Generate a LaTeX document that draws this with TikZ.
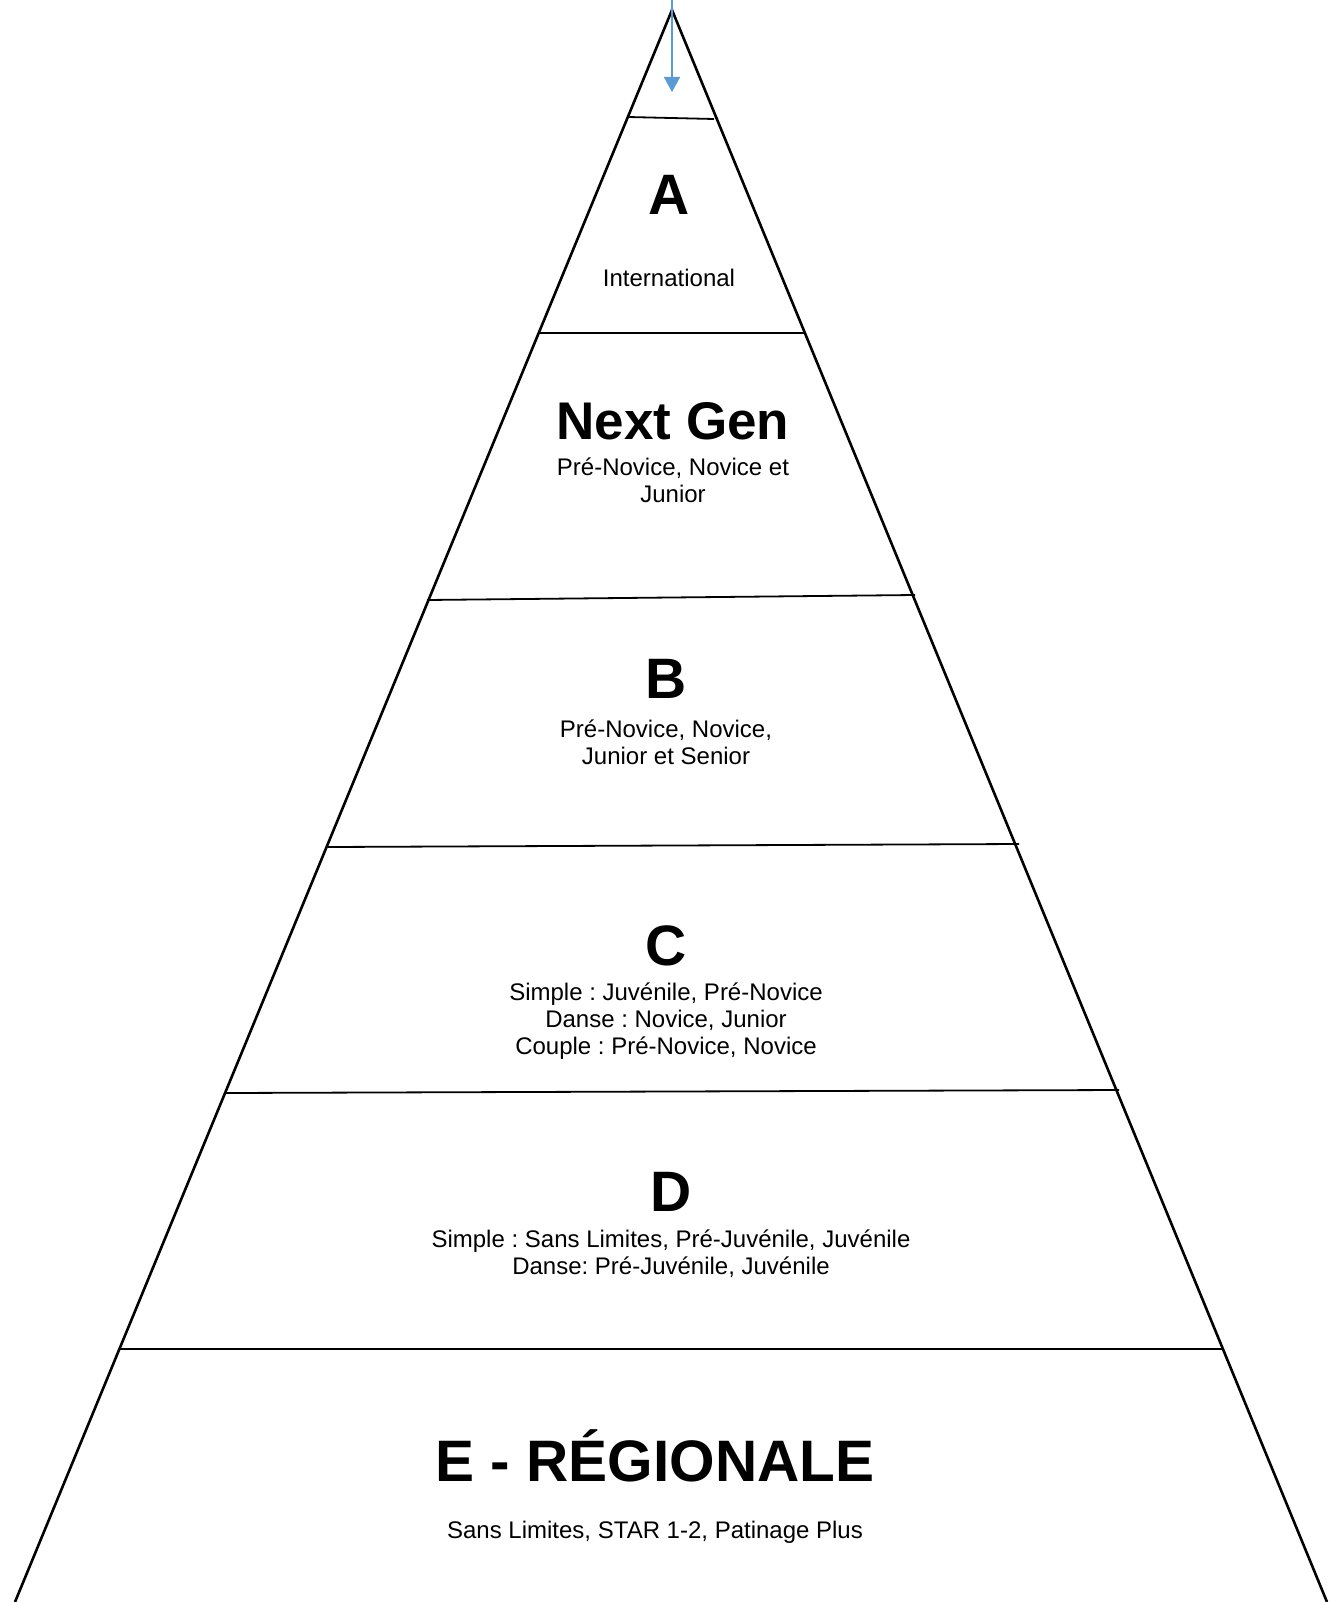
\documentclass[tikz,border=0pt]{standalone}
\usepackage{fontspec}
\setmainfont{Liberation Sans}
\usetikzlibrary{arrows.meta}
\definecolor{arrowblue}{HTML}{5B9BD5}
\frenchspacing
\begin{document}
\begin{tikzpicture}[x=1pt,y=-1pt,
  edge/.style={line width=2.6pt,black},
  tier/.style={line width=1.8pt,black},
  heading/.style={font=\fontsize{57}{60}\selectfont\bfseries,inner sep=0pt},
  bigheading/.style={font=\fontsize{58.5}{62}\selectfont\bfseries,inner sep=0pt},
  nextgen/.style={font=\fontsize{53}{56}\selectfont\bfseries,inner sep=0pt},
  sub/.style={font=\fontsize{24}{27}\selectfont\frenchspacing,align=center,inner sep=0pt}]
\useasboundingbox (0,0) rectangle (1337,1602);
% pyramid outline
\coordinate (apex) at (672,10);
\coordinate (bl) at (15,1602);
\coordinate (br) at (1327,1602);
\draw[edge] (bl) -- (apex) -- (br);
% tier lines
\coordinate (l1a) at (628,117);  \coordinate (l1b) at (714,119);
\coordinate (l2a) at (539,333);  \coordinate (l2b) at (805,333);
\coordinate (l3a) at (427,600);  \coordinate (l3b) at (915,595);
\coordinate (l4a) at (328,847);  \coordinate (l4b) at (1019,844);
\coordinate (l5a) at (224,1093); \coordinate (l5b) at (1119,1090);
\coordinate (l6a) at (120,1349); \coordinate (l6b) at (1224,1349);
\draw[tier] (l1a) -- (l1b);
\draw[tier] (l2a) -- (l2b);
\draw[tier] (l3a) -- (l3b);
\draw[tier] (l4a) -- (l4b);
\draw[tier] (l5a) -- (l5b);
\draw[tier] (l6a) -- (l6b);
% arrow
\coordinate (arrtop) at (672,0);
\coordinate (arrtip) at (672,92);
\draw[arrowblue,line width=1.8pt,-{Triangle[width=16pt,length=15pt]}] (arrtop) -- (arrtip);
% texts
\node[heading] (A) at (669,195) {A};
\node[sub] (Asub) at (669,278) {International};
\node[nextgen] (NG) at (673,421) {Next Gen};
\node[sub] (NGsub) at (673,480) {Pré-Novice, Novice et\\Junior};
\node[heading] (B) at (666,679) {B};
\node[sub] (Bsub) at (666,742) {Pré-Novice, Novice,\\Junior et Senior};
\node[heading] (C) at (666,946) {C};
\node[sub] (Csub) at (666,1021) {Simple : Juvénile, Pré-Novice\\Danse : Novice, Junior\\Couple : Pré-Novice, Novice};
\node[heading] (D) at (671,1192) {D};
\node[sub] (Dsub) at (671,1254) {Simple : Sans Limites, Pré-Juvénile, Juvénile\\Danse: Pré-Juvénile, Juvénile};
\node[bigheading] (E) at (655,1456) {E - RÉGIONALE};
\node[sub] (Esub) at (655,1532) {Sans Limites, STAR 1-2, Patinage Plus};
\end{tikzpicture}
\end{document}
